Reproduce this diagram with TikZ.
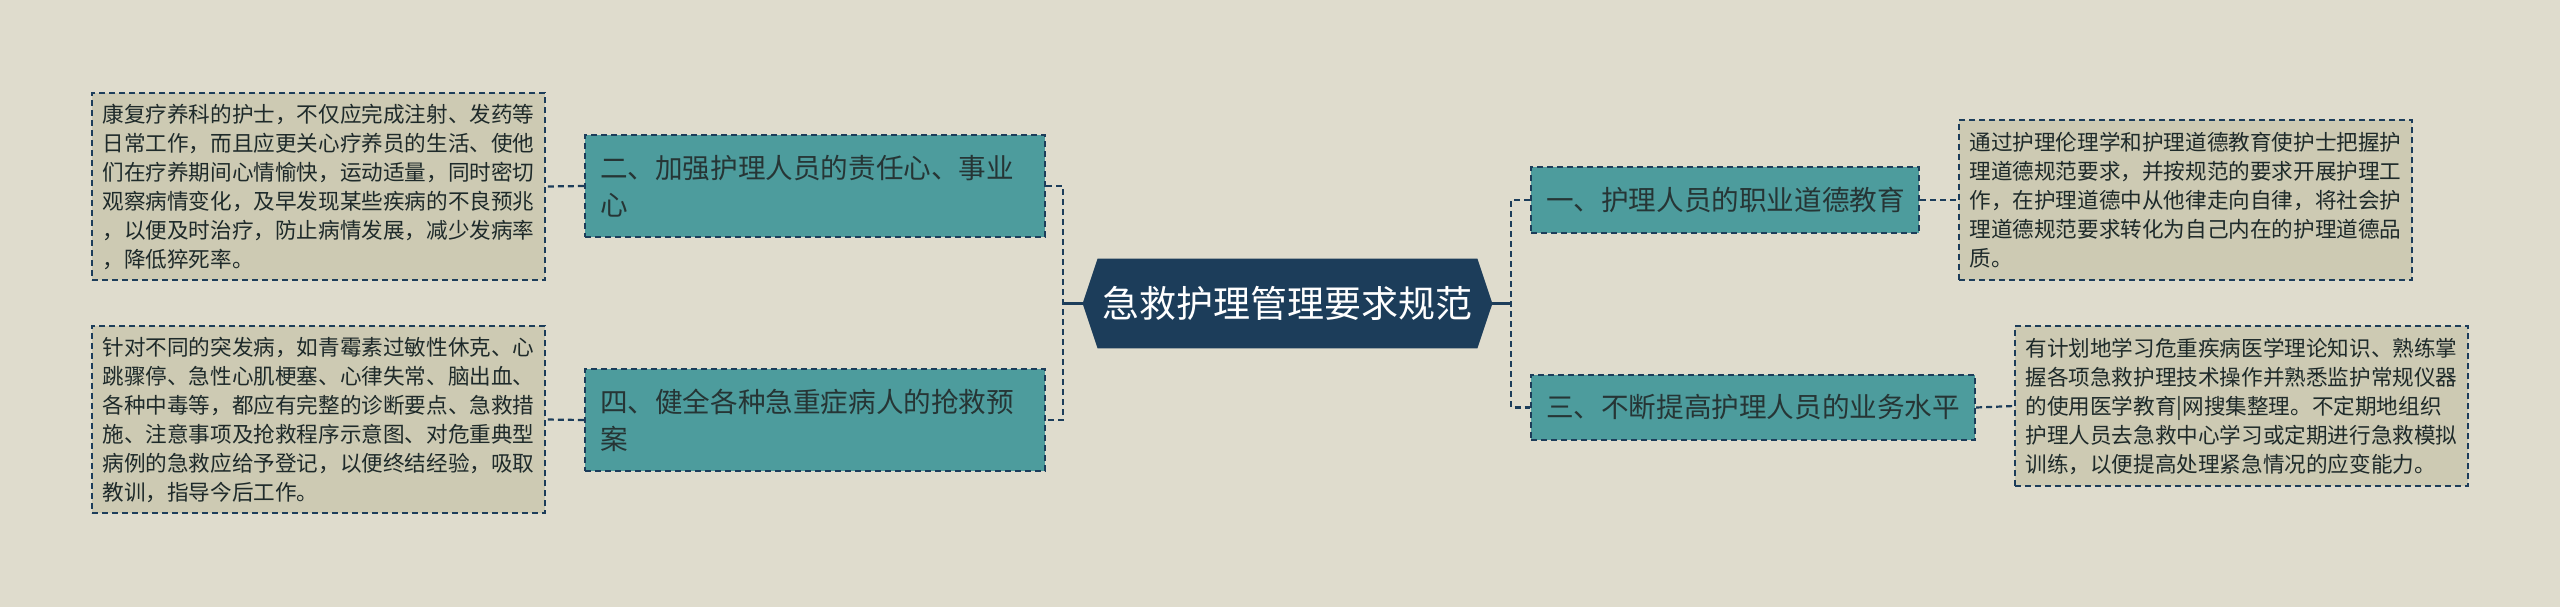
\documentclass[tikz,border=0pt]{standalone}
\usepackage{fontspec}
\setmainfont{Noto Sans CJK SC}
\usepackage{xcolor}
\usepackage{tikz}
\usetikzlibrary{backgrounds}
\definecolor{PageBeige}{HTML}{DFDCCD}
\definecolor{RootNavy}{HTML}{1C3D5A}
\definecolor{BranchTeal}{HTML}{4D9C9D}
\definecolor{LeafKhaki}{HTML}{CDCAB3}
\definecolor{TextDark}{HTML}{263535}

\begin{document}
\begin{tikzpicture}[x=0.5pt, y=-0.5pt,
    root/.style={text=white, font=\fontsize{18.5pt}{22pt}\selectfont,
      minimum width=189.5pt, minimum height=44.5pt, inner sep=0pt},
    branch/.style={draw=RootNavy, dash pattern=on 3pt off 2pt, line width=1.1pt,
      fill=BranchTeal, text=TextDark, font=\fontsize{13.8pt}{18.5pt}\selectfont,
      align=left, inner xsep=7.5pt, inner ysep=0pt},
    leaf/.style={draw=RootNavy, dash pattern=on 3pt off 2pt, line width=1pt,
      fill=LeafKhaki, text=TextDark!80!black, font=\fontsize{10.8pt}{14.5pt}\selectfont,
      align=left, minimum width=226.5pt, inner sep=0pt},
    link/.style={draw=RootNavy, line width=1.1pt, dash pattern=on 3pt off 2pt},
    stem/.style={draw=RootNavy, line width=1.4pt}]
  \useasboundingbox (0,0) rectangle (2560,607);

  % centre
  \node[root] (root) at (1287.5,303.5) {急救护理管理要求规范};
  \coordinate (rootL) at ([xshift=-7.5pt]root.west);
  \coordinate (rootR) at ([xshift=7.5pt]root.east);
  \coordinate (lbus) at (1063,303.5);
  \coordinate (rbus) at (1511,303.5);

  % left side
  \node[branch, text width=215pt, minimum height=51pt] (er) at (815,186)
    {二、加强护理人员的责任心、事业\\心};
  \node[branch, text width=215pt, minimum height=51pt] (si) at (815,420)
    {四、健全各种急重症病人的抢救预\\案};
  \node[leaf, minimum height=93.5pt] (der) at (318.5,186.5)
    {康复疗养科的护士，不仅应完成注射、发药等\\
     日常工作，而且应更关心疗养员的生活、使他\\
     们在疗养期间心情愉快，运动适量，同时密切\\
     观察病情变化，及早发现某些疾病的不良预兆\\
     ，以便及时治疗，防止病情发展，减少发病率\\
     ，降低猝死率。};
  \node[leaf, minimum height=93.5pt] (dsi) at (318.5,419.5)
    {针对不同的突发病，如青霉素过敏性休克、心\\
     跳骤停、急性心肌梗塞、心律失常、脑出血、\\
     各种中毒等，都应有完整的诊断要点、急救措\\
     施、注意事项及抢救程序示意图、对危重典型\\
     病例的急救应给予登记，以便终结经验，吸取\\
     教训，指导今后工作。};

  % right side
  \node[branch, text width=179pt, minimum height=33pt] (yi) at (1725,200)
    {一、护理人员的职业道德教育};
  \node[branch, text width=207pt, minimum height=32.5pt] (san) at (1753,407.5)
    {三、不断提高护理人员的业务水平};
  \node[leaf, minimum height=80pt] (dyi) at (2185.5,200)
    {通过护理伦理学和护理道德教育使护士把握护\\
     理道德规范要求，并按规范的要求开展护理工\\
     作，在护理道德中从他律走向自律，将社会护\\
     理道德规范要求转化为自己内在的护理道德品\\
     质。};
  \node[leaf, minimum height=80pt] (dsan) at (2241.5,406)
    {有计划地学习危重疾病医学理论知识、熟练掌\\
     握各项急救护理技术操作并熟悉监护常规仪器\\
     的使用医学教育|网搜集整理。不定期地组织\\
     护理人员去急救中心学习或定期进行急救模拟\\
     训练，以便提高处理紧急情况的应变能力。};

  % connectors
  \draw[stem] (rootL) -- (lbus);
  \draw[stem] (rootR) -- (rbus);
  \draw[link] (er.east) -| (lbus) |- (si.east);
  \draw[link] (yi.west) -| (rbus) |- (san.west);
  \draw[link] (er.west) -- (der.east);
  \draw[link] (si.west) -- (dsi.east);
  \draw[link] (yi.east) -- (dyi.west);
  \draw[link] (san.east) -- (dsan.west);

  \begin{scope}[on background layer]
    \fill[PageBeige] (0,0) rectangle (2560,607);
    \fill[RootNavy] (root.north west) -- (root.north east) -- (rootR)
      -- (root.south east) -- (root.south west) -- (rootL) -- cycle;
  \end{scope}
\end{tikzpicture}
\end{document}
